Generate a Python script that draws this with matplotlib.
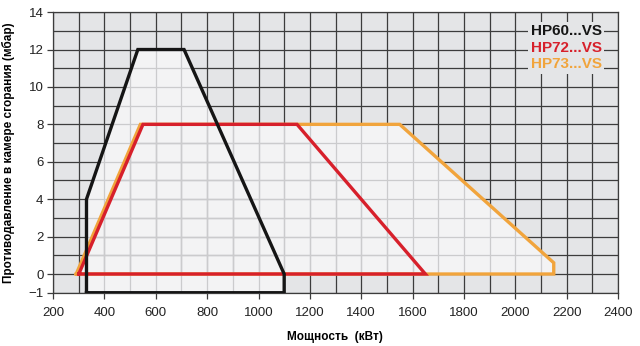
import numpy as np
import matplotlib.pyplot as plt
from matplotlib.patches import Polygon

plt.rcParams['font.family'] = ['Liberation Sans', 'DejaVu Sans']

# === Рабочие поля горелок ===
hp60_x = [330, 330, 530, 710, 1100, 1100, 330]
hp60_y = [-1, 4, 12, 12, 0, -1, -1]
hp72_x = [300, 550, 1150, 1650, 300]
hp72_y = [0, 8, 8, 0, 0]
hp73_x = [290, 540, 1550, 2150, 2150, 290]
hp73_y = [0, 8, 8, 0.6, 0, 0]

series_names = ["HP60...VS", "HP72...VS", "HP73...VS"]
series_colors = ["#151515", "#d7202b", "#f1a43c"]

x_ticks = list(range(200, 2401, 200))
y_ticks = [-1, 0, 2, 4, 6, 8, 10, 12, 14]

BG = "#e4e5e7"
INNER = "#f3f3f4"
GRID_DARK = "#3c3c3c"
GRID_LIGHT = "#cbcbcd"

fig = plt.figure(figsize=(6.4, 3.46), dpi=100)
ax = fig.add_axes([0.083, 0.154, 0.8825, 0.811])
ax.set_facecolor(BG)
ax.set_xlim(200, 2400)
ax.set_ylim(-1, 14)

gx = np.arange(200, 2401, 100)
gy = np.arange(-1, 15, 1)

# dark grid on gray background
ax.vlines(gx, -1, 14, color=GRID_DARK, lw=0.9, zorder=0.5)
ax.hlines(gy, 200, 2400, color=GRID_DARK, lw=0.9, zorder=0.5)

shapes = [(hp73_x, hp73_y), (hp72_x, hp72_y), (hp60_x, hp60_y)]

# light area inside the envelopes, with light grid clipped to each one
for xs, ys in shapes:
    poly = Polygon(np.column_stack([xs, ys]), closed=True, facecolor=INNER,
                   edgecolor="none", zorder=1)
    ax.add_patch(poly)
    v = ax.vlines(gx, -1, 14, color=GRID_LIGHT, lw=0.9, zorder=1.2)
    h = ax.hlines(gy, 200, 2400, color=GRID_LIGHT, lw=0.9, zorder=1.2)
    v.set_clip_path(poly)
    h.set_clip_path(poly)

# outlines: orange, red, black on top
for (xs, ys), col, z in zip(shapes, series_colors[::-1], [2, 3, 4]):
    ax.plot(xs, ys, color=col, lw=2.4, solid_joinstyle="miter", zorder=z)

# legend text
for i, (name, col) in enumerate(zip(series_names, series_colors)):
    ax.text(2060, 13.0 - 0.9 * i, name, color=col, fontsize=11, fontweight="bold",
            ha="left", va="center", zorder=5,
            bbox=dict(facecolor=BG, edgecolor="none", pad=1.5))

for s in ax.spines.values():
    s.set_color(GRID_DARK)
    s.set_linewidth(0.9)

ax.set_xticks(x_ticks)
ax.set_yticks(y_ticks)
ax.tick_params(axis="both", colors=GRID_DARK, length=4, width=0.9, labelsize=9.5,
               labelcolor="#222222")
ax.tick_params(axis="x", pad=6)
ax.tick_params(axis="y", pad=3)

fig.text(0.524, 0.027, "Мощность  (кВт)", ha="center", va="center",
         fontsize=8.5, fontweight="bold")
fig.text(0.013, 0.56, "Противодавление в камере сгорания (мбар)", ha="center",
         va="center", rotation=90, fontsize=8.5, fontweight="bold")

fig.savefig("out.png", dpi=100)
